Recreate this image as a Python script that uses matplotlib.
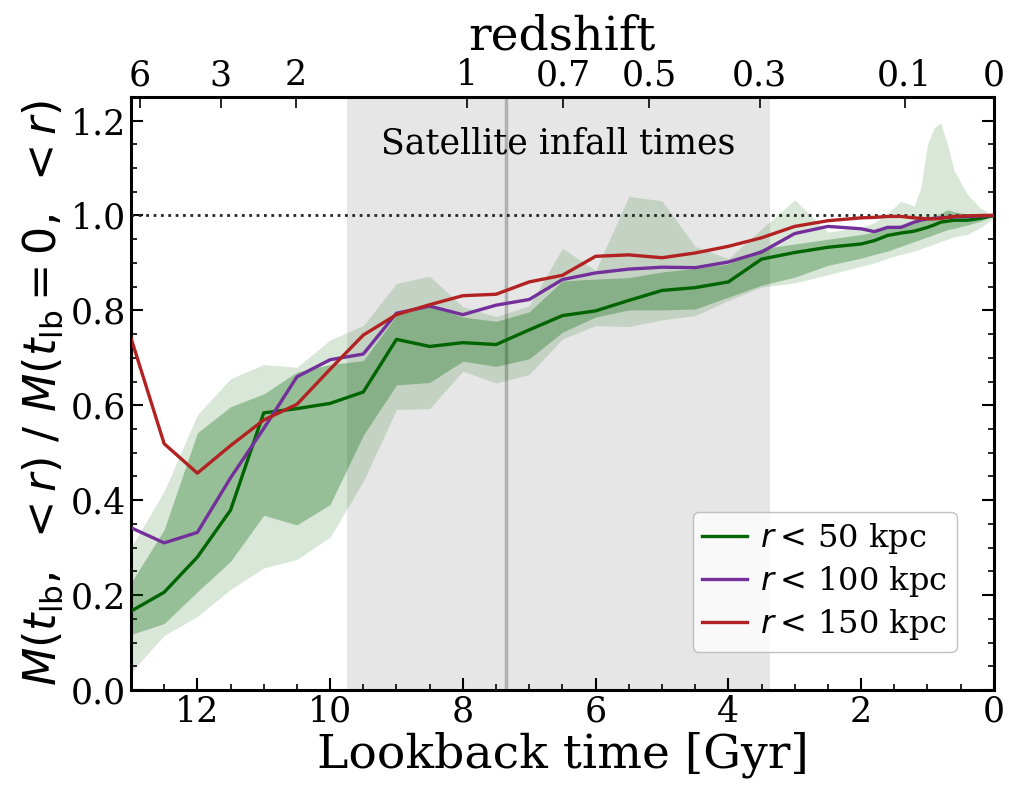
import numpy as np
import matplotlib
matplotlib.use('Agg')
import matplotlib.pyplot as plt
from matplotlib.ticker import MultipleLocator

plt.rcParams['font.family'] = 'DejaVu Serif'
plt.rcParams['mathtext.fontset'] = 'dejavusans'

# lookback time grid [Gyr]
lookback = [13.0, 12.5, 12.0, 11.5, 11.0, 10.5, 10.0, 9.5, 9.0, 8.5, 8.0, 7.5,
            7.0, 6.5, 6.0, 5.5, 5.0, 4.5, 4.0, 3.5, 3.0, 2.5, 2.0, 1.8, 1.6,
            1.4, 1.2, 1.1, 1.0, 0.9, 0.8, 0.7, 0.6, 0.4, 0.2, 0.0]

# enclosed mass fraction, median lines
m50 = [0.166, 0.206, 0.280, 0.379, 0.584, 0.593, 0.604, 0.628, 0.739, 0.724,
       0.732, 0.728, 0.759, 0.789, 0.799, 0.821, 0.842, 0.848, 0.860, 0.908,
       0.922, 0.933, 0.940, 0.947, 0.958, 0.963, 0.967, 0.971, 0.975, 0.980,
       0.986, 0.988, 0.990, 0.990, 0.994, 1.0]
m100 = [0.342, 0.310, 0.332, 0.447, 0.551, 0.660, 0.696, 0.708, 0.794, 0.809,
        0.791, 0.811, 0.823, 0.865, 0.879, 0.887, 0.891, 0.890, 0.902, 0.923,
        0.962, 0.977, 0.972, 0.966, 0.975, 0.975, 0.986, 0.990, 0.993, 0.994,
        0.995, 0.996, 0.997, 0.998, 0.999, 1.0]
m150 = [0.742, 0.519, 0.457, 0.515, 0.569, 0.602, 0.676, 0.748, 0.791, 0.812,
        0.831, 0.834, 0.860, 0.874, 0.914, 0.917, 0.911, 0.921, 0.935, 0.953,
        0.977, 0.989, 0.995, 0.996, 0.998, 0.998, 0.995, 0.994, 0.993, 0.993,
        0.994, 0.996, 0.998, 0.999, 1.0, 1.0]

# r < 50 kpc scatter bands (outer / inner)
outer_hi = [0.300, 0.419, 0.580, 0.656, 0.686, 0.680, 0.738, 0.768, 0.857, 0.872,
            0.808, 0.787, 0.810, 0.931, 0.884, 1.040, 1.031, 0.935, 0.909, 0.972,
            1.033, 0.965, 0.975, 0.985, 1.005, 1.030, 1.020, 1.060, 1.150, 1.185,
            1.195, 1.150, 1.095, 1.045, 1.015, 1.0]
inner_hi = [0.226, 0.338, 0.542, 0.597, 0.624, 0.670, 0.686, 0.694, 0.789, 0.810,
            0.786, 0.777, 0.797, 0.862, 0.866, 0.869, 0.881, 0.888, 0.898, 0.930,
            0.940, 0.950, 0.960, 0.965, 0.975, 0.980, 0.985, 0.990, 0.992, 0.998,
            1.005, 1.012, 1.008, 1.003, 1.0, 1.0]
inner_lo = [0.117, 0.140, 0.207, 0.271, 0.368, 0.348, 0.391, 0.537, 0.643, 0.648,
            0.693, 0.682, 0.698, 0.754, 0.786, 0.801, 0.801, 0.803, 0.828, 0.853,
            0.870, 0.895, 0.910, 0.918, 0.925, 0.935, 0.945, 0.950, 0.955, 0.960,
            0.965, 0.970, 0.973, 0.980, 0.988, 1.0]
outer_lo = [0.037, 0.115, 0.155, 0.212, 0.257, 0.275, 0.322, 0.440, 0.591, 0.593,
            0.672, 0.647, 0.665, 0.740, 0.768, 0.766, 0.780, 0.789, 0.821, 0.849,
            0.858, 0.875, 0.893, 0.900, 0.910, 0.918, 0.925, 0.930, 0.935, 0.940,
            0.945, 0.950, 0.955, 0.960, 0.975, 0.995]

infall_range = (9.75, 3.38)
infall_median = 7.35

z_ticks = [6, 3, 2, 1, 0.7, 0.5, 0.3, 0.1, 0]
z_labels = ['6', '3', '2', '1', '0.7', '0.5', '0.3', '0.1', '0']


def lookback_time(z, H0=67.7, Om=0.31):
    """flat LCDM lookback time in Gyr"""
    if z == 0:
        return 0.0
    zz = np.linspace(0, z, 2000)
    E = np.sqrt(Om * (1 + zz) ** 3 + (1 - Om))
    return 977.8 / H0 * np.trapezoid(1.0 / ((1 + zz) * E), zz)


fig = plt.figure(figsize=(10.09, 7.94), dpi=100)
ax = fig.add_axes([0.1298, 0.131, 0.8552, 0.747])

ax.axvspan(infall_range[0], infall_range[1], color='0.9', zorder=0, lw=0)
ax.axvline(infall_median, color='0.55', lw=2.5, alpha=0.6, zorder=1)
ax.text(np.mean(infall_range), 1.152, 'Satellite infall times', ha='center',
        va='center', fontsize=25)

ax.fill_between(lookback, outer_lo, outer_hi, color='darkgreen', alpha=0.15, lw=0, zorder=2)
ax.fill_between(lookback, inner_lo, inner_hi, color='darkgreen', alpha=0.3, lw=0, zorder=2)
ax.axhline(1.0, color='0.15', ls=':', lw=2, zorder=3)

ax.plot(lookback, m50, color='darkgreen', lw=2.4, label=r'$r<\,$50 kpc', zorder=4)
ax.plot(lookback, m100, color='#74309a', lw=2.4, label=r'$r<\,$100 kpc', zorder=4)
ax.plot(lookback, m150, color='#b22222', lw=2.4, label=r'$r<\,$150 kpc', zorder=4)

ax.set_xlim(13.0, 0)
ax.set_ylim(0, 1.25)
ax.xaxis.set_major_locator(MultipleLocator(2))
ax.xaxis.set_minor_locator(MultipleLocator(0.5))
ax.yaxis.set_major_locator(MultipleLocator(0.2))
ax.yaxis.set_minor_locator(MultipleLocator(0.05))
ax.tick_params(which='both', direction='in', right=True, top=False, labelsize=25)
ax.tick_params(which='major', length=8.5, width=1.5)
ax.tick_params(which='minor', length=4.5, width=1.2)
for s in ax.spines.values():
    s.set_linewidth(2.2)

ax.set_xlabel('Lookback time [Gyr]', fontsize=34, labelpad=2)
ax.set_ylabel(r'$M(t_{\rm lb},\ <r)\ /\ M(t_{\rm lb}=0,\ <r)$', fontsize=32, labelpad=4)

ax2 = ax.twiny()
ax2.set_xlim(ax.get_xlim())
ax2.set_xticks([lookback_time(z) for z in z_ticks])
ax2.set_xticklabels(z_labels)
ax2.tick_params(direction='in', length=8, width=1.2, labelsize=25)
ax2.set_xlabel('redshift', fontsize=34, labelpad=6)

leg = ax.legend(loc='lower right', bbox_to_anchor=(0.957, 0.064), borderaxespad=0,
                fontsize=23, handlelength=1.4, handletextpad=0.4, labelspacing=0.25,
                borderpad=0.3, framealpha=0.8, edgecolor='0.7')

fig.savefig('out.png', dpi=100)
